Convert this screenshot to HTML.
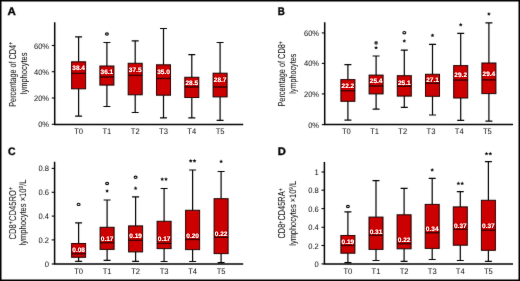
<!DOCTYPE html><html><head><meta charset="utf-8"><style>html,body{margin:0;padding:0;background:#fff;}svg{display:block;will-change:transform;}text{font-family:"Liberation Sans",sans-serif;text-rendering:geometricPrecision;}</style></head><body>
<svg width="520" height="281" viewBox="0 0 520 281">
<defs><filter id="b" x="0" y="0" width="520" height="281" filterUnits="userSpaceOnUse"><feConvolveMatrix order="3" kernelMatrix="0.00524 0.06192 0.00524 0.06192 0.73137 0.06192 0.00524 0.06192 0.00524" divisor="1" edgeMode="duplicate"/></filter></defs>
<rect x="0" y="0" width="520" height="281" fill="#fff"/>
<g filter="url(#b)">
<text transform="translate(7.50,15.40) scale(1.0600,1)" font-size="10.9" font-weight="bold" text-anchor="start" fill="#000" stroke="#000" stroke-width="0.35">A</text>
<path d="M54.7 22.3V124.5H243.2" fill="none" stroke="#000" stroke-width="1.5"/>
<path d="M51.800000000000004 124.3H54.7" stroke="#000" stroke-width="1.1"/>
<path d="M51.800000000000004 98.0H54.7" stroke="#000" stroke-width="1.1"/>
<path d="M51.800000000000004 71.7H54.7" stroke="#000" stroke-width="1.1"/>
<path d="M51.800000000000004 45.5H54.7" stroke="#000" stroke-width="1.1"/>
<path d="M78.6 36.9V61.8M78.6 88.8V116.2M75.1 36.9H82.1M75.1 116.2H82.1" stroke="#000" stroke-width="1.2" fill="none"/>
<rect x="71.6" y="61.8" width="14.0" height="27.0" fill="#cc0000" stroke="#000" stroke-width="1"/>
<path d="M71.6 73.4H85.6" stroke="#1a0000" stroke-width="1.3"/>
<path d="M106.89999999999999 42.5V66.0M106.89999999999999 85.1V106.5M103.39999999999999 42.5H110.39999999999999M103.39999999999999 106.5H110.39999999999999" stroke="#000" stroke-width="1.2" fill="none"/>
<rect x="99.89999999999999" y="66.0" width="14.0" height="19.099999999999994" fill="#cc0000" stroke="#000" stroke-width="1"/>
<path d="M99.89999999999999 77.0H113.89999999999999" stroke="#1a0000" stroke-width="1.3"/>
<ellipse cx="106.89999999999999" cy="34.0" rx="1.45" ry="1.15" fill="none" stroke="#000" stroke-width="1.1"/>
<path d="M135.2 40.8V63.3M135.2 94.8V112.5M131.7 40.8H138.7M131.7 112.5H138.7" stroke="#000" stroke-width="1.2" fill="none"/>
<rect x="128.2" y="63.3" width="14.0" height="31.5" fill="#cc0000" stroke="#000" stroke-width="1"/>
<path d="M128.2 75.4H142.2" stroke="#1a0000" stroke-width="1.3"/>
<path d="M163.5 28.5V64.8M163.5 95.2V117.9M160.0 28.5H167.0M160.0 117.9H167.0" stroke="#000" stroke-width="1.2" fill="none"/>
<rect x="156.5" y="64.8" width="14.0" height="30.400000000000006" fill="#cc0000" stroke="#000" stroke-width="1"/>
<path d="M156.5 78.5H170.5" stroke="#1a0000" stroke-width="1.3"/>
<path d="M191.8 54.6V77.3M191.8 97.5V117.9M188.3 54.6H195.3M188.3 117.9H195.3" stroke="#000" stroke-width="1.2" fill="none"/>
<rect x="184.8" y="77.3" width="14.0" height="20.200000000000003" fill="#cc0000" stroke="#000" stroke-width="1"/>
<path d="M184.8 87.0H198.8" stroke="#1a0000" stroke-width="1.3"/>
<path d="M220.1 42.5V73.2M220.1 96.9V120.4M216.6 42.5H223.6M216.6 120.4H223.6" stroke="#000" stroke-width="1.2" fill="none"/>
<rect x="213.1" y="73.2" width="14.0" height="23.700000000000003" fill="#cc0000" stroke="#000" stroke-width="1"/>
<path d="M213.1 87.0H227.1" stroke="#1a0000" stroke-width="1.3"/>
<g transform="translate(15.8,74.3) rotate(-90)"><text x="0.00" y="0.00" font-size="10" text-anchor="middle" textLength="64.90" lengthAdjust="spacingAndGlyphs" fill="#000">Percentage of CD4<tspan font-size="7" dy="-2.8">+</tspan></text></g>
<g transform="translate(26.7,73.4) rotate(-90)"><text x="0.00" y="0.00" font-size="9.5" text-anchor="middle" textLength="41.80" lengthAdjust="spacingAndGlyphs" fill="#000">lymphocytes</text></g>
<text transform="translate(277.85,15.10) scale(0.9000,1)" font-size="10.9" font-weight="bold" text-anchor="start" fill="#000" stroke="#000" stroke-width="0.35">B</text>
<path d="M324.7 22.3V124.6H513.0" fill="none" stroke="#000" stroke-width="1.5"/>
<path d="M321.8 124.6H324.7" stroke="#000" stroke-width="1.1"/>
<path d="M321.8 93.9H324.7" stroke="#000" stroke-width="1.1"/>
<path d="M321.8 63.4H324.7" stroke="#000" stroke-width="1.1"/>
<path d="M321.8 32.9H324.7" stroke="#000" stroke-width="1.1"/>
<path d="M347.9 64.6V79.6M347.9 101.3V120.2M344.4 64.6H351.4M344.4 120.2H351.4" stroke="#000" stroke-width="1.2" fill="none"/>
<rect x="340.9" y="79.6" width="14.0" height="21.700000000000003" fill="#cc0000" stroke="#000" stroke-width="1"/>
<path d="M340.9 90.7H354.9" stroke="#1a0000" stroke-width="1.3"/>
<path d="M376.09999999999997 56.0V75.1M376.09999999999997 93.9V109.2M372.59999999999997 56.0H379.59999999999997M372.59999999999997 109.2H379.59999999999997" stroke="#000" stroke-width="1.2" fill="none"/>
<rect x="369.09999999999997" y="75.1" width="14.0" height="18.80000000000001" fill="#cc0000" stroke="#000" stroke-width="1"/>
<path d="M369.09999999999997 85.9H383.09999999999997" stroke="#1a0000" stroke-width="1.3"/>
<circle cx="376.09999999999997" cy="42.9" r="1.8" fill="#3a3a3a"/>
<polygon points="376.10,45.70 376.69,46.89 378.00,47.08 377.05,48.01 377.28,49.32 376.10,48.70 374.92,49.32 375.15,48.01 374.20,47.08 375.51,46.89" fill="#111"/>
<path d="M404.29999999999995 50.2V75.7M404.29999999999995 96.1V107.3M400.79999999999995 50.2H407.79999999999995M400.79999999999995 107.3H407.79999999999995" stroke="#000" stroke-width="1.2" fill="none"/>
<rect x="397.29999999999995" y="75.7" width="14.0" height="20.39999999999999" fill="#cc0000" stroke="#000" stroke-width="1"/>
<path d="M397.29999999999995 86.3H411.29999999999995" stroke="#1a0000" stroke-width="1.3"/>
<ellipse cx="404.29999999999995" cy="32.7" rx="1.45" ry="1.15" fill="none" stroke="#000" stroke-width="1.1"/>
<polygon points="404.30,39.00 404.89,40.19 406.20,40.38 405.25,41.31 405.48,42.62 404.30,42.00 403.12,42.62 403.35,41.31 402.40,40.38 403.71,40.19" fill="#111"/>
<path d="M432.5 44.4V74.3M432.5 96.3V115.0M429.0 44.4H436.0M429.0 115.0H436.0" stroke="#000" stroke-width="1.2" fill="none"/>
<rect x="425.5" y="74.3" width="14.0" height="22.0" fill="#cc0000" stroke="#000" stroke-width="1"/>
<path d="M425.5 83.2H439.5" stroke="#1a0000" stroke-width="1.3"/>
<polygon points="432.50,33.40 433.09,34.59 434.40,34.78 433.45,35.71 433.68,37.02 432.50,36.40 431.32,37.02 431.55,35.71 430.60,34.78 431.91,34.59" fill="#111"/>
<path d="M460.7 33.3V65.6M460.7 98.0V120.4M457.2 33.3H464.2M457.2 120.4H464.2" stroke="#000" stroke-width="1.2" fill="none"/>
<rect x="453.7" y="65.6" width="14.0" height="32.400000000000006" fill="#cc0000" stroke="#000" stroke-width="1"/>
<path d="M453.7 80.1H467.7" stroke="#1a0000" stroke-width="1.3"/>
<polygon points="460.70,22.80 461.29,23.99 462.60,24.18 461.65,25.11 461.88,26.42 460.70,25.80 459.52,26.42 459.75,25.11 458.80,24.18 460.11,23.99" fill="#111"/>
<path d="M488.9 22.9V63.0M488.9 93.6V121.2M485.4 22.9H492.4M485.4 121.2H492.4" stroke="#000" stroke-width="1.2" fill="none"/>
<rect x="481.9" y="63.0" width="14.0" height="30.599999999999994" fill="#cc0000" stroke="#000" stroke-width="1"/>
<path d="M481.9 79.9H495.9" stroke="#1a0000" stroke-width="1.3"/>
<polygon points="488.90,12.00 489.49,13.19 490.80,13.38 489.85,14.31 490.08,15.62 488.90,15.00 487.72,15.62 487.95,14.31 487.00,13.38 488.31,13.19" fill="#111"/>
<g transform="translate(285.4,73.9) rotate(-90)"><text x="0.00" y="0.00" font-size="10" text-anchor="middle" textLength="65.30" lengthAdjust="spacingAndGlyphs" fill="#000">Percentage of CD8<tspan font-size="7" dy="-2.8">+</tspan></text></g>
<g transform="translate(296.4,73.7) rotate(-90)"><text x="0.00" y="0.00" font-size="9.5" text-anchor="middle" textLength="40.00" lengthAdjust="spacingAndGlyphs" fill="#000">lymphocytes</text></g>
<text transform="translate(8.00,155.15) scale(0.9600,1)" font-size="10.9" font-weight="bold" text-anchor="start" fill="#000" stroke="#000" stroke-width="0.35">C</text>
<path d="M54.6 161.8V264.0H243.2" fill="none" stroke="#000" stroke-width="1.5"/>
<path d="M51.7 264.0H54.6" stroke="#000" stroke-width="1.1"/>
<path d="M51.7 239.9H54.6" stroke="#000" stroke-width="1.1"/>
<path d="M51.7 216.1H54.6" stroke="#000" stroke-width="1.1"/>
<path d="M51.7 192.3H54.6" stroke="#000" stroke-width="1.1"/>
<path d="M51.7 168.4H54.6" stroke="#000" stroke-width="1.1"/>
<path d="M78.6 222.8V243.5M78.6 257.3V261.3M75.1 222.8H82.1M75.1 261.3H82.1" stroke="#000" stroke-width="1.2" fill="none"/>
<rect x="71.6" y="243.5" width="14.0" height="13.800000000000011" fill="#cc0000" stroke="#000" stroke-width="1"/>
<path d="M71.6 253.7H85.6" stroke="#1a0000" stroke-width="1.3"/>
<ellipse cx="78.6" cy="204.4" rx="1.45" ry="1.15" fill="none" stroke="#000" stroke-width="1.1"/>
<path d="M107.1 200.0V227.3M107.1 249.4V260.3M103.6 200.0H110.6M103.6 260.3H110.6" stroke="#000" stroke-width="1.2" fill="none"/>
<rect x="100.1" y="227.3" width="14.0" height="22.099999999999994" fill="#cc0000" stroke="#000" stroke-width="1"/>
<path d="M100.1 242.7H114.1" stroke="#1a0000" stroke-width="1.3"/>
<ellipse cx="107.1" cy="183.5" rx="1.45" ry="1.15" fill="none" stroke="#000" stroke-width="1.1"/>
<polygon points="107.10,189.00 107.69,190.19 109.00,190.38 108.05,191.31 108.28,192.62 107.10,192.00 105.92,192.62 106.15,191.31 105.20,190.38 106.51,190.19" fill="#111"/>
<path d="M135.6 196.9V225.9M135.6 251.9V261.3M132.1 196.9H139.1M132.1 261.3H139.1" stroke="#000" stroke-width="1.2" fill="none"/>
<rect x="128.6" y="225.9" width="14.0" height="26.0" fill="#cc0000" stroke="#000" stroke-width="1"/>
<path d="M128.6 240.3H142.6" stroke="#1a0000" stroke-width="1.3"/>
<ellipse cx="135.6" cy="177.3" rx="1.45" ry="1.15" fill="none" stroke="#000" stroke-width="1.1"/>
<polygon points="135.60,186.30 136.19,187.49 137.50,187.68 136.55,188.61 136.78,189.92 135.60,189.30 134.42,189.92 134.65,188.61 133.70,187.68 135.01,187.49" fill="#111"/>
<path d="M164.1 188.5V221.3M164.1 248.6V261.5M160.6 188.5H167.6M160.6 261.5H167.6" stroke="#000" stroke-width="1.2" fill="none"/>
<rect x="157.1" y="221.3" width="14.0" height="27.299999999999983" fill="#cc0000" stroke="#000" stroke-width="1"/>
<path d="M157.1 243.4H171.1" stroke="#1a0000" stroke-width="1.3"/>
<polygon points="162.20,177.20 162.79,178.39 164.10,178.58 163.15,179.51 163.38,180.82 162.20,180.20 161.02,180.82 161.25,179.51 160.30,178.58 161.61,178.39" fill="#111"/>
<polygon points="166.00,177.20 166.59,178.39 167.90,178.58 166.95,179.51 167.18,180.82 166.00,180.20 164.82,180.82 165.05,179.51 164.10,178.58 165.41,178.39" fill="#111"/>
<path d="M192.6 170.0V210.3M192.6 249.6V261.5M189.1 170.0H196.1M189.1 261.5H196.1" stroke="#000" stroke-width="1.2" fill="none"/>
<rect x="185.6" y="210.3" width="14.0" height="39.29999999999998" fill="#cc0000" stroke="#000" stroke-width="1"/>
<path d="M185.6 239.5H199.6" stroke="#1a0000" stroke-width="1.3"/>
<polygon points="190.70,158.90 191.29,160.09 192.60,160.28 191.65,161.21 191.88,162.52 190.70,161.90 189.52,162.52 189.75,161.21 188.80,160.28 190.11,160.09" fill="#111"/>
<polygon points="194.50,158.90 195.09,160.09 196.40,160.28 195.45,161.21 195.68,162.52 194.50,161.90 193.32,162.52 193.55,161.21 192.60,160.28 193.91,160.09" fill="#111"/>
<path d="M221.1 171.5V198.7M221.1 253.6V262.6M217.6 171.5H224.6M217.6 262.6H224.6" stroke="#000" stroke-width="1.2" fill="none"/>
<rect x="214.1" y="198.7" width="14.0" height="54.900000000000006" fill="#cc0000" stroke="#000" stroke-width="1"/>
<path d="M214.1 237.3H228.1" stroke="#1a0000" stroke-width="1.3"/>
<polygon points="221.10,159.50 221.69,160.69 223.00,160.88 222.05,161.81 222.28,163.12 221.10,162.50 219.92,163.12 220.15,161.81 219.20,160.88 220.51,160.69" fill="#111"/>
<g transform="translate(15.6,213.2) rotate(-90)"><text x="0.00" y="0.00" font-size="10" text-anchor="middle" textLength="52.40" lengthAdjust="spacingAndGlyphs" fill="#000">CD8<tspan font-size="7" dy="-2.8">+</tspan><tspan dy="2.8">CD45RO</tspan><tspan font-size="7" dy="-2.8">+</tspan></text></g>
<g transform="translate(26.4,212.5) rotate(-90)"><text x="0.00" y="0.00" font-size="9.5" text-anchor="middle" textLength="66.00" lengthAdjust="spacingAndGlyphs" fill="#000">lymphocytes ×10<tspan font-size="6" dy="-3.2">9</tspan><tspan dy="3.2">/L</tspan></text></g>
<text transform="translate(277.75,155.00) scale(1.0300,1)" font-size="10.9" font-weight="bold" text-anchor="start" fill="#000" stroke="#000" stroke-width="0.35">D</text>
<path d="M324.4 162.0V263.9H513.0" fill="none" stroke="#000" stroke-width="1.5"/>
<path d="M321.5 263.9H324.4" stroke="#000" stroke-width="1.1"/>
<path d="M321.5 245.5H324.4" stroke="#000" stroke-width="1.1"/>
<path d="M321.5 227.3H324.4" stroke="#000" stroke-width="1.1"/>
<path d="M321.5 208.6H324.4" stroke="#000" stroke-width="1.1"/>
<path d="M321.5 190.2H324.4" stroke="#000" stroke-width="1.1"/>
<path d="M321.5 172.0H324.4" stroke="#000" stroke-width="1.1"/>
<path d="M347.9 211.9V235.5M347.9 253.2V262.7M344.4 211.9H351.4M344.4 262.7H351.4" stroke="#000" stroke-width="1.2" fill="none"/>
<rect x="340.9" y="235.5" width="14.0" height="17.69999999999999" fill="#cc0000" stroke="#000" stroke-width="1"/>
<path d="M340.9 245.5H354.9" stroke="#1a0000" stroke-width="1.3"/>
<ellipse cx="347.9" cy="206.5" rx="1.45" ry="1.15" fill="none" stroke="#000" stroke-width="1.1"/>
<path d="M376.0 180.6V217.1M376.0 249.4V260.5M372.5 180.6H379.5M372.5 260.5H379.5" stroke="#000" stroke-width="1.2" fill="none"/>
<rect x="369.0" y="217.1" width="14.0" height="32.30000000000001" fill="#cc0000" stroke="#000" stroke-width="1"/>
<path d="M369.0 235.3H383.0" stroke="#1a0000" stroke-width="1.3"/>
<path d="M404.09999999999997 188.3V214.8M404.09999999999997 248.8V261.3M400.59999999999997 188.3H407.59999999999997M400.59999999999997 261.3H407.59999999999997" stroke="#000" stroke-width="1.2" fill="none"/>
<rect x="397.09999999999997" y="214.8" width="14.0" height="34.0" fill="#cc0000" stroke="#000" stroke-width="1"/>
<path d="M397.09999999999997 243.7H411.09999999999997" stroke="#1a0000" stroke-width="1.3"/>
<path d="M432.2 178.3V204.4M432.2 248.4V259.5M428.7 178.3H435.7M428.7 259.5H435.7" stroke="#000" stroke-width="1.2" fill="none"/>
<rect x="425.2" y="204.4" width="14.0" height="44.0" fill="#cc0000" stroke="#000" stroke-width="1"/>
<path d="M425.2 232.7H439.2" stroke="#1a0000" stroke-width="1.3"/>
<polygon points="432.20,168.00 432.79,169.19 434.10,169.38 433.15,170.31 433.38,171.62 432.20,171.00 431.02,171.62 431.25,170.31 430.30,169.38 431.61,169.19" fill="#111"/>
<path d="M460.29999999999995 191.7V206.9M460.29999999999995 245.2V260.5M456.79999999999995 191.7H463.79999999999995M456.79999999999995 260.5H463.79999999999995" stroke="#000" stroke-width="1.2" fill="none"/>
<rect x="453.29999999999995" y="206.9" width="14.0" height="38.29999999999998" fill="#cc0000" stroke="#000" stroke-width="1"/>
<path d="M453.29999999999995 229.4H467.29999999999995" stroke="#1a0000" stroke-width="1.3"/>
<polygon points="458.40,181.50 458.99,182.69 460.30,182.88 459.35,183.81 459.58,185.12 458.40,184.50 457.22,185.12 457.45,183.81 456.50,182.88 457.81,182.69" fill="#111"/>
<polygon points="462.20,181.50 462.79,182.69 464.10,182.88 463.15,183.81 463.38,185.12 462.20,184.50 461.02,185.12 461.25,183.81 460.30,182.88 461.61,182.69" fill="#111"/>
<path d="M488.4 161.7V200.3M488.4 250.3V261.4M484.9 161.7H491.9M484.9 261.4H491.9" stroke="#000" stroke-width="1.2" fill="none"/>
<rect x="481.4" y="200.3" width="14.0" height="50.0" fill="#cc0000" stroke="#000" stroke-width="1"/>
<path d="M481.4 230.3H495.4" stroke="#1a0000" stroke-width="1.3"/>
<polygon points="486.50,151.70 487.09,152.89 488.40,153.08 487.45,154.01 487.68,155.32 486.50,154.70 485.32,155.32 485.55,154.01 484.60,153.08 485.91,152.89" fill="#111"/>
<polygon points="490.30,151.70 490.89,152.89 492.20,153.08 491.25,154.01 491.48,155.32 490.30,154.70 489.12,155.32 489.35,154.01 488.40,153.08 489.71,152.89" fill="#111"/>
<g transform="translate(285.4,213.4) rotate(-90)"><text x="0.00" y="0.00" font-size="10" text-anchor="middle" textLength="50.20" lengthAdjust="spacingAndGlyphs" fill="#000">CD8<tspan font-size="7" dy="-2.8">+</tspan><tspan dy="2.8">CD45RA</tspan><tspan font-size="7" dy="-2.8">+</tspan></text></g>
<g transform="translate(296.3,213.3) rotate(-90)"><text x="0.00" y="0.00" font-size="9.5" text-anchor="middle" textLength="64.90" lengthAdjust="spacingAndGlyphs" fill="#000">lymphocytes ×10<tspan font-size="6" dy="-3.2">9</tspan><tspan dy="3.2">/L</tspan></text></g>
<g fill="#000"><text transform="translate(49.10,127.30) scale(0.9620,1)" font-size="7.9" text-anchor="end" >0%</text><text transform="translate(49.10,101.00) scale(0.9620,1)" font-size="7.9" text-anchor="end" >20%</text><text transform="translate(49.10,74.70) scale(0.9620,1)" font-size="7.9" text-anchor="end" >40%</text><text transform="translate(49.10,48.50) scale(0.9620,1)" font-size="7.9" text-anchor="end" >60%</text><text transform="translate(78.60,134.10) scale(0.9500,1)" font-size="8.0" text-anchor="middle" >T0</text><text transform="translate(106.90,134.10) scale(0.9500,1)" font-size="8.0" text-anchor="middle" >T1</text><text transform="translate(135.20,134.10) scale(0.9500,1)" font-size="8.0" text-anchor="middle" >T2</text><text transform="translate(163.50,134.10) scale(0.9500,1)" font-size="8.0" text-anchor="middle" >T3</text><text transform="translate(191.80,134.10) scale(0.9500,1)" font-size="8.0" text-anchor="middle" >T4</text><text transform="translate(220.10,134.10) scale(0.9500,1)" font-size="8.0" text-anchor="middle" >T5</text><text transform="translate(319.10,127.60) scale(0.9620,1)" font-size="7.9" text-anchor="end" >0%</text><text transform="translate(319.10,96.90) scale(0.9620,1)" font-size="7.9" text-anchor="end" >20%</text><text transform="translate(319.10,66.40) scale(0.9620,1)" font-size="7.9" text-anchor="end" >40%</text><text transform="translate(319.10,35.90) scale(0.9620,1)" font-size="7.9" text-anchor="end" >60%</text><text transform="translate(346.40,134.20) scale(0.9500,1)" font-size="8.0" text-anchor="middle" >T0</text><text transform="translate(374.60,134.20) scale(0.9500,1)" font-size="8.0" text-anchor="middle" >T1</text><text transform="translate(402.80,134.20) scale(0.9500,1)" font-size="8.0" text-anchor="middle" >T2</text><text transform="translate(431.00,134.20) scale(0.9500,1)" font-size="8.0" text-anchor="middle" >T3</text><text transform="translate(459.20,134.20) scale(0.9500,1)" font-size="8.0" text-anchor="middle" >T4</text><text transform="translate(487.40,134.20) scale(0.9500,1)" font-size="8.0" text-anchor="middle" >T5</text><text transform="translate(49.00,267.00) scale(0.9620,1)" font-size="7.9" text-anchor="end" >0</text><text transform="translate(49.00,242.90) scale(0.9620,1)" font-size="7.9" text-anchor="end" >0.2</text><text transform="translate(49.00,219.10) scale(0.9620,1)" font-size="7.9" text-anchor="end" >0.4</text><text transform="translate(49.00,195.30) scale(0.9620,1)" font-size="7.9" text-anchor="end" >0.6</text><text transform="translate(49.00,171.40) scale(0.9620,1)" font-size="7.9" text-anchor="end" >0.8</text><text transform="translate(78.60,273.60) scale(0.9500,1)" font-size="8.0" text-anchor="middle" >T0</text><text transform="translate(107.10,273.60) scale(0.9500,1)" font-size="8.0" text-anchor="middle" >T1</text><text transform="translate(135.60,273.60) scale(0.9500,1)" font-size="8.0" text-anchor="middle" >T2</text><text transform="translate(164.10,273.60) scale(0.9500,1)" font-size="8.0" text-anchor="middle" >T3</text><text transform="translate(192.60,273.60) scale(0.9500,1)" font-size="8.0" text-anchor="middle" >T4</text><text transform="translate(221.10,273.60) scale(0.9500,1)" font-size="8.0" text-anchor="middle" >T5</text><text transform="translate(318.80,266.90) scale(0.9620,1)" font-size="7.9" text-anchor="end" >0</text><text transform="translate(318.80,248.50) scale(0.9620,1)" font-size="7.9" text-anchor="end" >0.2</text><text transform="translate(318.80,230.30) scale(0.9620,1)" font-size="7.9" text-anchor="end" >0.4</text><text transform="translate(318.80,211.60) scale(0.9620,1)" font-size="7.9" text-anchor="end" >0.6</text><text transform="translate(318.80,193.20) scale(0.9620,1)" font-size="7.9" text-anchor="end" >0.8</text><text transform="translate(318.80,175.00) scale(0.9620,1)" font-size="7.9" text-anchor="end" >1</text><text transform="translate(347.90,273.50) scale(0.9500,1)" font-size="8.0" text-anchor="middle" >T0</text><text transform="translate(376.00,273.50) scale(0.9500,1)" font-size="8.0" text-anchor="middle" >T1</text><text transform="translate(404.10,273.50) scale(0.9500,1)" font-size="8.0" text-anchor="middle" >T2</text><text transform="translate(432.20,273.50) scale(0.9500,1)" font-size="8.0" text-anchor="middle" >T3</text><text transform="translate(460.30,273.50) scale(0.9500,1)" font-size="8.0" text-anchor="middle" >T4</text><text transform="translate(488.40,273.50) scale(0.9500,1)" font-size="8.0" text-anchor="middle" >T5</text></g>
<rect x="0.75" y="0.75" width="518.5" height="279.5" fill="none" stroke="#000" stroke-width="1.5"/>
</g>
<g fill="#fff" stroke="#fff" stroke-width="0.15"><text x="78.60" y="70.10" font-size="6.5" font-weight="bold" text-anchor="middle" >38.4</text><text x="106.90" y="73.75" font-size="6.5" font-weight="bold" text-anchor="middle" >36.1</text><text x="135.20" y="71.90" font-size="6.5" font-weight="bold" text-anchor="middle" >37.5</text><text x="163.50" y="74.40" font-size="6.5" font-weight="bold" text-anchor="middle" >35.0</text><text x="191.80" y="84.50" font-size="6.5" font-weight="bold" text-anchor="middle" >28.5</text><text x="220.10" y="82.40" font-size="6.5" font-weight="bold" text-anchor="middle" >28.7</text><text x="347.90" y="87.90" font-size="6.5" font-weight="bold" text-anchor="middle" >22.2</text><text x="376.10" y="82.70" font-size="6.5" font-weight="bold" text-anchor="middle" >25.4</text><text x="404.30" y="84.50" font-size="6.5" font-weight="bold" text-anchor="middle" >25.1</text><text x="432.50" y="81.75" font-size="6.5" font-weight="bold" text-anchor="middle" >27.1</text><text x="460.70" y="77.30" font-size="6.5" font-weight="bold" text-anchor="middle" >29.2</text><text x="488.90" y="75.75" font-size="6.5" font-weight="bold" text-anchor="middle" >29.4</text><text x="78.60" y="252.00" font-size="6.5" font-weight="bold" text-anchor="middle" >0.08</text><text x="107.10" y="241.00" font-size="6.5" font-weight="bold" text-anchor="middle" >0.17</text><text x="135.60" y="238.40" font-size="6.5" font-weight="bold" text-anchor="middle" >0.19</text><text x="164.10" y="240.80" font-size="6.5" font-weight="bold" text-anchor="middle" >0.17</text><text x="192.60" y="237.80" font-size="6.5" font-weight="bold" text-anchor="middle" >0.20</text><text x="221.10" y="235.75" font-size="6.5" font-weight="bold" text-anchor="middle" >0.22</text><text x="347.90" y="243.60" font-size="6.5" font-weight="bold" text-anchor="middle" >0.19</text><text x="376.00" y="233.60" font-size="6.5" font-weight="bold" text-anchor="middle" >0.31</text><text x="404.10" y="242.45" font-size="6.5" font-weight="bold" text-anchor="middle" >0.22</text><text x="432.20" y="230.80" font-size="6.5" font-weight="bold" text-anchor="middle" >0.34</text><text x="460.30" y="227.60" font-size="6.5" font-weight="bold" text-anchor="middle" >0.37</text><text x="488.40" y="228.45" font-size="6.5" font-weight="bold" text-anchor="middle" >0.37</text></g>
</svg></body></html>
